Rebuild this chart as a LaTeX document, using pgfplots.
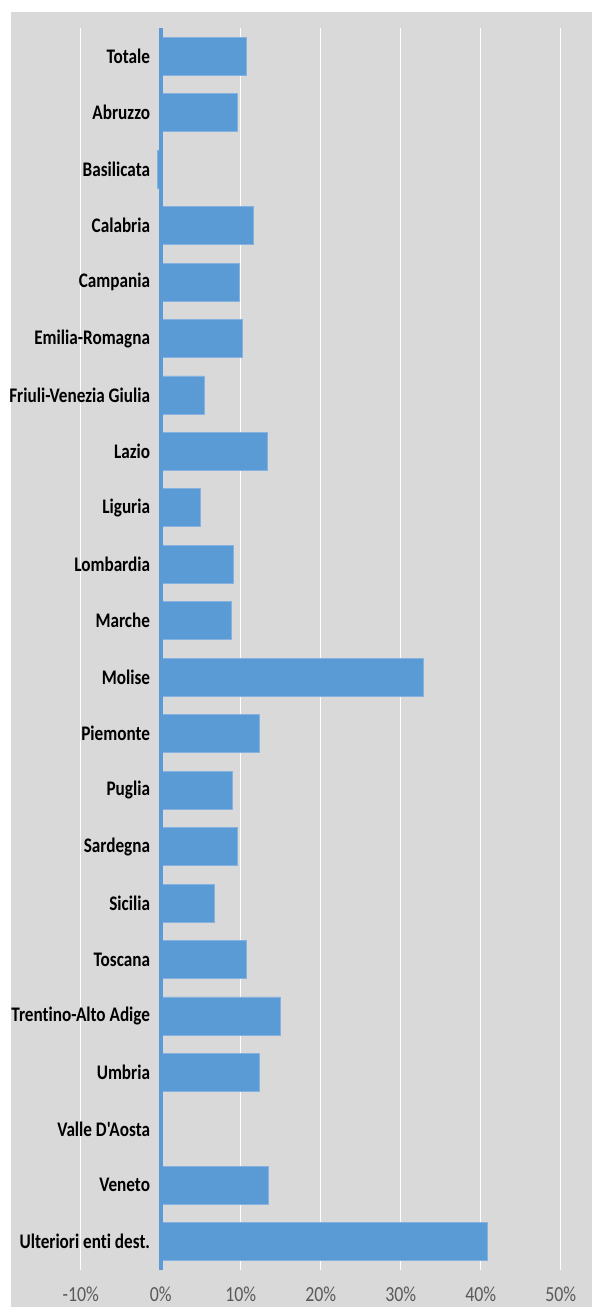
\documentclass[border=0pt]{standalone}
\usepackage{pgfplots}
\pgfplotsset{compat=1.18}
\usepackage{pgfplotstable}
\usepackage{fontspec}
\setmainfont{Carlito}[FakeStretch=0.83, Ligatures={NoCommon,TeXOff}]
\definecolor{bgc}{HTML}{D9D9D9}
\definecolor{barc}{HTML}{5B9BD5}
\definecolor{baredge}{HTML}{86B2E0}
\definecolor{tickc}{HTML}{595959}
\pgfplotstableread{
i v
0 10.66
1 9.60
2 -0.42
3 11.54
4 9.79
5 10.25
6 5.41
7 13.29
8 5.00
9 9.08
10 8.79
11 32.83
12 12.29
13 8.96
14 9.54
15 6.75
16 10.70
17 14.91
18 12.29
19 0.0
20 13.45
21 40.83
}\datatable
\begin{document}
\begin{tikzpicture}[x=1pt,y=1pt]
\useasboundingbox (0,0) rectangle (592,1307);
\fill[bgc] (11,0) rectangle (592,1295);
\begin{axis}[
  at={(80.7pt,37pt)}, anchor=south west,
  scale only axis, width=480pt, height=1242pt,
  xmin=-10, xmax=50, ymin=-0.5, ymax=21.5, y dir=reverse,
  xbar, bar width=38pt, bar shift=0pt,
  axis line style={draw=none}, tick style={draw=none},
  xmajorgrids, major grid style={white, line width=1.3pt},
  xtick={-10,0,10,20,30,40,50},
  xticklabels={-10\%,0\%,10\%,20\%,30\%,40\%,50\%},
  ytick={0,...,21},
  yticklabels={Totale,Abruzzo,Basilicata,Calabria,Campania,Emilia-Romagna,Friuli-Venezia Giulia,Lazio,Liguria,Lombardia,Marche,Molise,Piemonte,Puglia,Sardegna,Sicilia,Toscana,Trentino-Alto Adige,Umbria,Valle D'Aosta,Veneto,Ulteriori enti dest.},
  yticklabel style={font=\bfseries\fontsize{20.7}{24}\selectfont, text=black, anchor=east, inner sep=0pt, xshift=73.8pt},
  xticklabel style={font=\fontsize{21.5}{25}\selectfont, text=tickc, anchor=north, inner sep=0pt, yshift=-17pt},
  clip=false,
]
\addplot[fill=barc, draw=baredge, line width=0.8pt] table[x=v, y=i] {\datatable};
\draw[barc, line width=4pt] (axis cs:0,-0.5) -- (axis cs:0,21.5);
\end{axis}
\end{tikzpicture}
\end{document}
